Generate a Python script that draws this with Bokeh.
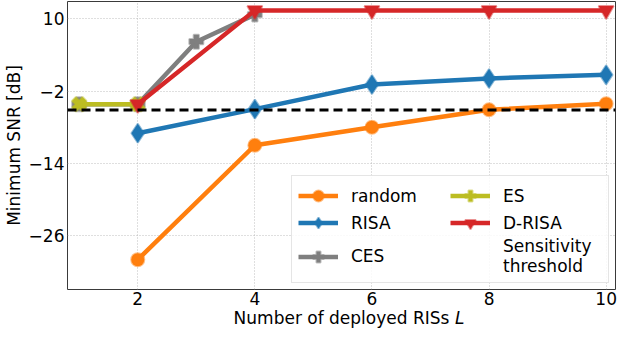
from bokeh.plotting import figure
from bokeh.models import Range1d, FixedTicker, Span, Legend, LegendItem, Label
from bokeh.embed import file_html
from bokeh.resources import INLINE

# ---- data ----
x_random = [2, 4, 6, 8, 10]
y_random = [-30.0, -11.0, -8.0, -5.1, -4.1]
x_risa = [2, 4, 6, 8, 10]
y_risa = [-9.0, -5.0, -0.9, 0.1, 0.7]
x_ces = [1, 2, 3, 4]
y_ces = [-4.2, -4.2, 6.2, 10.7]
x_es = [1, 2]
y_es = [-4.2, -4.2]
x_drisa = [2, 4, 6, 8, 10]
y_drisa = [-4.2, 11.4, 11.4, 11.4, 11.4]
threshold = -5.15
x_ticks = [2, 4, 6, 8, 10]
y_ticks = [-26, -14, -2, 10]

FONT = "DejaVu Sans"
FS = "17px"

p = figure(width=624, height=330, output_backend="svg", toolbar_location=None,
           x_range=Range1d(0.8, 10.16), y_range=Range1d(-34.96, 12.88),
           min_border_left=40, min_border_right=0, min_border_top=1, min_border_bottom=30)

p.background_fill_color = "white"
p.border_fill_color = "white"
p.outline_line_color = "#3a3a3a"
p.outline_line_width = 1

for ax in (p.xaxis[0], p.yaxis[0]):
    ax.axis_line_color = None
    ax.major_tick_line_color = None
    ax.major_tick_out = 0
    ax.major_tick_in = 0
    ax.minor_tick_line_color = None
    ax.major_label_text_font = FONT
    ax.major_label_text_font_size = FS
    ax.major_label_text_color = "black"
    ax.axis_label_text_font = FONT
    ax.axis_label_text_font_size = FS
    ax.axis_label_text_font_style = "normal"
    ax.axis_label_text_color = "black"

p.xaxis.ticker = FixedTicker(ticks=x_ticks)
p.yaxis.ticker = FixedTicker(ticks=y_ticks)
p.xaxis.major_label_standoff = 2
p.yaxis.major_label_standoff = 3
p.yaxis.axis_label = "Minimum SNR [dB]"
p.yaxis.axis_label_standoff = 2
p.xaxis.axis_label = "Number of deployed RISs"
p.xaxis.axis_label_standoff = 0

p.xgrid.ticker = FixedTicker(ticks=x_ticks)
p.ygrid.ticker = FixedTicker(ticks=y_ticks)
p.grid.grid_line_color = "#b0b0b0"
p.grid.grid_line_dash = "1 2"
p.grid.grid_line_alpha = 0.8
p.grid.grid_line_width = 1

LW = 4.5

def series(xs, ys, color, marker, size, angle=0.0):
    lr = p.line(xs, ys, line_color=color, line_width=LW)
    sr = p.scatter(xs, ys, marker=marker, size=size, angle=angle,
                   fill_color=color, line_color=color, line_alpha=0.5, line_width=2)
    return [lr, sr]

r_random = series(x_random, y_random, "#ff7f0e", "circle", 13)
r_risa = series(x_risa, y_risa, "#1f77b4", "diamond", 19)
r_ces = series(x_ces, y_ces, "#7f7f7f", "plus", 14)
r_es = series(x_es, y_es, "#bcbd22", "plus", 15, angle=0.785398)
r_drisa = series(x_drisa, y_drisa, "#d62728", "inverted_triangle", 15)

span = Span(location=threshold, dimension="width", line_color="black",
            line_width=3, line_dash="9 5")
p.add_layout(span)
r_thr = p.line([], [], line_color="black", line_width=3, line_dash="9 5")

legend = Legend(items=[
    LegendItem(label="random", renderers=r_random),
    LegendItem(label="RISA", renderers=r_risa),
    LegendItem(label="CES", renderers=r_ces),
    LegendItem(label="ES", renderers=r_es),
    LegendItem(label="D-RISA", renderers=r_drisa),
    LegendItem(label="Sensitivity\nthreshold", renderers=[r_thr]),
], ncols=2, location="bottom_right")
legend.label_text_font = FONT
legend.label_text_font_size = FS
legend.label_text_color = "black"
legend.glyph_width = 40
legend.glyph_height = 27
legend.label_standoff = 13
legend.label_width = 99
legend.spacing = 0
legend.padding = 6
legend.margin = 6
legend.border_line_color = "#cccccc"
legend.background_fill_alpha = 0.85
p.add_layout(legend)

# italic "L" of the x-axis label, kept in a side panel so that it is not clipped
lab_L = Label(x=7.42, y=-28, x_units="data", y_units="screen",
              text="L", text_align="left", text_baseline="middle",
              text_font=FONT, text_font_size=FS, text_font_style="italic", text_color="black")
p.add_layout(lab_L, "right")

open("out.html", "w").write(file_html(p, INLINE))
